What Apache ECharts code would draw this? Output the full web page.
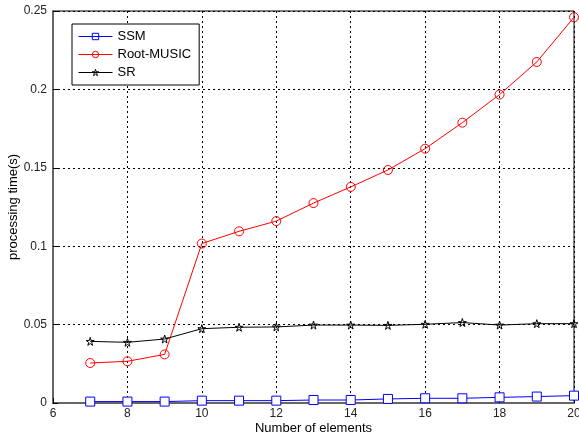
<!DOCTYPE html>
<html>
<head>
<meta charset="utf-8">
<script src="https://cdn.jsdelivr.net/npm/echarts@6/dist/echarts.min.js"></script>
<style>
html,body{margin:0;padding:0;background:#fff;}
#chart{width:579px;height:437px;}
</style>
</head>
<body>
<div id="chart"></div>
<script>
// Number of array elements
const elements = [7, 8, 9, 10, 11, 12, 13, 14, 15, 16, 17, 18, 19, 20];

// Processing time in seconds for each method
const ssm = [0.0009, 0.0009, 0.0009, 0.0015, 0.0015, 0.0015, 0.0019, 0.0019, 0.0026, 0.0030, 0.0030, 0.0036, 0.0041, 0.0047];
const rootMusic = [0.0255, 0.0266, 0.0310, 0.1017, 0.1095, 0.1160, 0.1275, 0.1378, 0.1486, 0.1622, 0.1788, 0.1967, 0.2175, 0.2460];
const sr = [0.0393, 0.0387, 0.0408, 0.0474, 0.0483, 0.0485, 0.0497, 0.0497, 0.0495, 0.0502, 0.0513, 0.0497, 0.0506, 0.0506];

const xTicks = [6, 8, 10, 12, 14, 16, 18, 20];
const yTicks = [0, 0.05, 0.1, 0.15, 0.2, 0.25];

const starPath = 'path://M50,0 L61,35 L98,35 L68,57 L79,91 L50,70 L21,91 L32,57 L2,35 L39,35 Z';

const pairs = vals => elements.map((x, i) => [x, vals[i]]);
const font = 'Liberation Sans, Arial, sans-serif';

const chart = echarts.init(document.getElementById('chart'), null, {renderer: 'canvas'});

chart.setOption({
  animation: false,
  backgroundColor: '#fff',
  textStyle: {fontFamily: font},
  grid: {left: 53, right: 5, top: 11, bottom: 34, show: true, borderColor: '#000', borderWidth: 1,
    containLabel: false, outerBoundsMode: 'none'},
  legend: {
    orient: 'vertical',
    left: 72, top: 24,
    backgroundColor: '#fff',
    borderColor: '#000', borderWidth: 1,
    padding: [6, 8, 6, 6],
    itemWidth: 34, itemHeight: 8, itemGap: 5,
    itemStyle: {borderWidth: 1, color: 'rgba(255,255,255,0)'},
    lineStyle: {width: 1},
    textStyle: {fontFamily: font, fontSize: 13, color: '#000'},
    data: ['SSM', 'Root-MUSIC', 'SR']
  },
  xAxis: {
    type: 'value', min: 6, max: 20, interval: 2,
    name: 'Number of elements', nameLocation: 'middle', nameGap: 19, nameMoveOverlap: false,
    nameTextStyle: {fontFamily: font, fontSize: 13, color: '#000'},
    axisLine: {lineStyle: {color: '#666', width: 2}},
    axisTick: {inside: true, length: 5, lineStyle: {color: '#000'}},
    axisLabel: {fontFamily: font, fontSize: 12, color: '#222', margin: 5,
      formatter: v => xTicks.includes(v) ? String(v) : ''},
    splitLine: {show: true, lineStyle: {color: '#000', type: [2, 3], width: 1}}
  },
  yAxis: {
    type: 'value', min: 0, max: 0.25, interval: 0.05,
    name: 'processing time(s)', nameLocation: 'middle', nameGap: 33, nameMoveOverlap: false,
    nameTextStyle: {fontFamily: font, fontSize: 13, color: '#000'},
    axisLine: {show: true, lineStyle: {color: '#666', width: 2}},
    axisTick: {show: true, inside: true, length: 5, lineStyle: {color: '#000'}},
    axisLabel: {fontFamily: font, fontSize: 12, color: '#222', margin: 6,
      formatter: v => {
        const t = yTicks.find(y => Math.abs(y - v) < 1e-9);
        return t === undefined ? '' : String(t);
      }},
    splitLine: {show: true, lineStyle: {color: '#000', type: [2, 3], width: 1}}
  },
  series: [
    {
      name: 'SSM', type: 'line', data: pairs(ssm),
      symbol: 'rect', symbolSize: 9,
      itemStyle: {color: '#fff', borderColor: '#0000ff', borderWidth: 1},
      lineStyle: {color: '#0000ff', width: 1}
    },
    {
      name: 'Root-MUSIC', type: 'line', data: pairs(rootMusic),
      symbol: 'circle', symbolSize: 9,
      itemStyle: {color: 'rgba(255,255,255,0)', borderColor: '#ff0000', borderWidth: 1},
      lineStyle: {color: '#ff0000', width: 1}
    },
    {
      name: 'SR', type: 'line', data: pairs(sr),
      symbol: starPath, symbolSize: 8,
      itemStyle: {color: 'rgba(255,255,255,0)', borderColor: '#000', borderWidth: 1},
      lineStyle: {color: '#000', width: 1}
    }
  ]
});
</script>
</body>
</html>
